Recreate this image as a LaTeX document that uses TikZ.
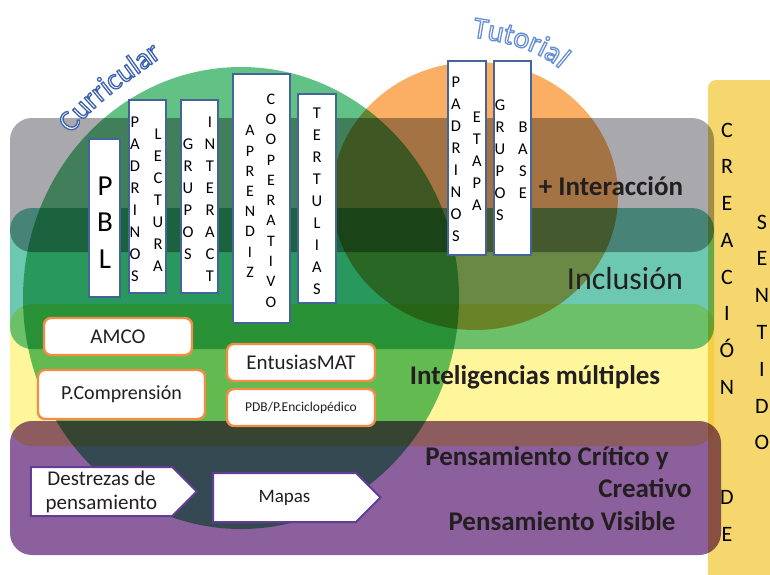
\documentclass[tikz,border=0pt]{standalone}
\usepackage{fontspec}
\setmainfont{Carlito}
\usepackage{tikz}
\usetikzlibrary{shapes.symbols, decorations.text}

\definecolor{bandgray}{RGB}{168,168,173}
\definecolor{bandteal}{RGB}{108,200,176}
\definecolor{bandyellow}{RGB}{255,245,155}
\definecolor{bandpurple}{RGB}{140,96,157}
\definecolor{circgreen}{RGB}{98,194,134}
\definecolor{circorange}{RGB}{250,175,100}
\definecolor{baryellow}{RGB}{245,215,110}
\definecolor{boxblue}{RGB}{68,100,155}
\definecolor{boxorange}{RGB}{245,140,70}
\definecolor{boxpurple}{RGB}{100,60,150}
\definecolor{inkdark}{RGB}{35,31,32}

\newcommand{\curvfont}{\fontsize{30}{32}\selectfont}
% white letters with a blue outline (stroke colour set per character)
\newcommand{\curvblue}{\special{pdf:code 0.24 0.39 0.69 RG}}
\newcommand{\tutblue}{\special{pdf:code 0.40 0.56 0.84 RG}}

\tikzstyle{band} = [rounded corners=22pt, blend mode=multiply]
\tikzstyle{vbox} = [rectangle, draw=boxblue, line width=2pt, fill=white, inner sep=0pt]
\tikzstyle{letters} = [align=center, inner sep=0pt, text=black, font=\fontsize{16.5}{22}\selectfont]
\tikzstyle{obox} = [rectangle, rounded corners=7pt, draw=boxorange, line width=2.4pt, fill=white, text=inkdark, font=\fontsize{21}{24}\selectfont]
\tikzstyle{sbox} = [signal, signal to=east, signal pointer angle=90, draw=boxpurple, line width=2pt, fill=white, minimum height=49pt, align=center, text=inkdark, font=\fontsize{21}{24}\selectfont]
\tikzstyle{bandtext} = [text=inkdark, font=\bfseries\fontsize{27}{30}\selectfont, anchor=base, inner sep=0pt]

\begin{document}
\begin{tikzpicture}[x=1pt, y=-1pt]
\useasboundingbox (0,0) rectangle (770,574);
\fill[white] (0,0) rectangle (770,574);

% bands, side bar and the two circles
\fill[band, rounded corners=8pt, fill=baryellow] (708,80) rectangle (800,600);
\fill[band, fill=bandgray] (10,118) rectangle (714,252);
\fill[band, fill=bandteal] (10,208) rectangle (714,349);
\fill[band, fill=bandyellow] (10,304) rectangle (714,446);
\fill[band, fill=bandpurple] (10,421) rectangle (721,555);
\fill[blend mode=multiply, fill=circgreen] (241,298) ellipse [x radius=218, y radius=231];
\fill[blend mode=multiply, fill=circorange] (475,196) ellipse [x radius=143, y radius=134];

% curved titles
\begin{scope}
\special{pdf:code 2 Tr 1.3 w}
\path[decorate, decoration={text along path, text={|\curvfont\color{white}\curvblue|Curricular}}]
  (72,134) .. controls (95,101) and (131,80) .. (167,53);
\path[decorate, decoration={text along path, text={|\curvfont\color{white}\tutblue|Tutorial}}]
  (472,37) .. controls (505,42) and (542,50) .. (564,73);
\end{scope}

% vertical boxes
\node[vbox, minimum width=31pt, minimum height=158pt] (pbl) at (104.5,218) {};
\node[vbox, minimum width=37pt, minimum height=193pt] (padlec) at (147.5,196.5) {};
\node[vbox, minimum width=37pt, minimum height=193pt] (gruint) at (199.5,196.5) {};
\node[vbox, minimum width=57pt, minimum height=249pt] (apcoop) at (261.5,198.5) {};
\node[vbox, minimum width=38pt, minimum height=209pt] (tert) at (317,198.5) {};
\node[vbox, minimum width=38pt, minimum height=194pt] (padeta) at (467,158) {};
\node[vbox, minimum width=37pt, minimum height=194pt] (grubas) at (512.5,158) {};

\node[letters, font=\fontsize{29}{36.5}\selectfont] (pblt) at (105,222.5) {P\\B\\L};
\node[letters] (padr) at (135,199) {P\\A\\D\\R\\I\\N\\O\\S};
\node[letters] (lect) at (158,200.5) {L\\E\\C\\T\\U\\R\\A};
\node[letters] (grup) at (188,199) {G\\R\\U\\P\\O\\S};
\node[letters] (inter) at (210,199) {I\\N\\T\\E\\R\\A\\C\\T};
\node[letters, font=\fontsize{16}{20.2}\selectfont] (apren) at (250,201.5) {A\\P\\R\\E\\N\\D\\I\\Z};
\node[letters, font=\fontsize{16}{20.3}\selectfont] (coop) at (271,200.5) {C\\O\\O\\P\\E\\R\\A\\T\\I\\V\\O};
\node[letters] (tertt) at (317,201) {T\\E\\R\\T\\U\\L\\I\\A\\S};
\node[letters] (padr2) at (456,159.5) {P\\A\\D\\R\\I\\N\\O\\S};
\node[letters] (etapa) at (477,161) {E\\T\\A\\P\\A};
\node[letters] (grup2) at (500,160.5) {G\\R\\U\\P\\O\\S};
\node[letters] (base) at (523,160) {B\\A\\S\\E};

% side bar
\node[letters, font=\fontsize{22}{36.7}\selectfont] (creac) at (727,332) {C\\R\\E\\A\\C\\I\\Ó\\N\\[73.4pt]D\\E};
\node[letters, font=\fontsize{22}{36.8}\selectfont] (sent) at (762,332.5) {S\\E\\N\\T\\I\\D\\O};

% band labels
\node[bandtext] (interac) at (611,195) {+ Interacción};
\node[bandtext, font=\fontsize{32}{34}\selectfont] (inclu) at (625,289) {Inclusión};
\node[bandtext] (intmul) at (535,384) {Inteligencias múltiples};
\node[bandtext] (pcrit) at (547,465) {Pensamiento Crítico y};
\node[bandtext] (pcrea) at (645,497) {Creativo};
\node[bandtext] (pvis) at (562,530) {Pensamiento Visible};

% orange boxes
\node[obox, minimum width=148pt, minimum height=37pt] (amco) at (118,336.5) {AMCO};
\node[obox, minimum width=167pt, minimum height=49pt, font=\fontsize{20}{24}\selectfont] (pcomp) at (121.5,394.5) {P.Comprensión};
\node[obox, minimum width=148pt, minimum height=37pt] (entus) at (301,362.5) {EntusiasMAT};
\node[obox, minimum width=148pt, minimum height=37pt, font=\fontsize{13.5}{16}\selectfont] (pdb) at (301,407.5) {PDB/P.Enciclopédico};

% arrows of thinking
\node[sbox, minimum width=166pt] (destr) at (101.5,491.5) {Destrezas de\\pensamiento};
\node[sbox, minimum width=167.5pt, font=\fontsize{19}{22}\selectfont] (mapas) at (284.5,497.5) {Mapas};
\end{tikzpicture}
\end{document}
